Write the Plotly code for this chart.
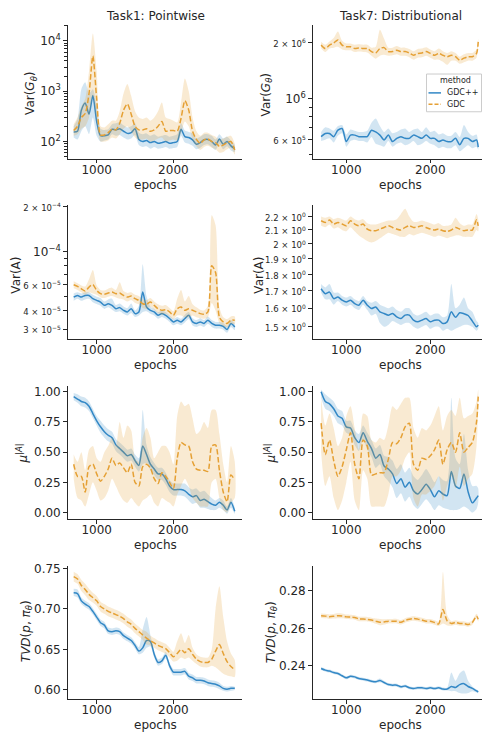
import plotly.graph_objects as go

# ---------------- data ----------------
EPOCHS_T1 = list(range(700, 2801, 50))            # Task1 x grid (43)
EPOCHS_T7 = list(range(700, 2551, 50)) + [2570]   # Task7 x grid (39)

# Task1 Var(G)
T1_VARG_GDCPP = [155, 160, 420, 580, 350, 820, 250, 130, 130, 135,
                 175, 170, 180, 160, 145, 150, 180, 110, 100, 105,
                 95, 100, 92, 95, 100, 92, 95, 100, 175, 125,
                 120, 108, 88, 95, 108, 110, 100, 85, 112, 88,
                 100, 82, 72]
T1_VARG_GDCPP_HI = [200, 280, 1100, 1500, 900, 1100, 500, 180, 170, 175,
                    220, 230, 240, 210, 190, 200, 230, 150, 140, 145,
                    130, 140, 125, 130, 135, 125, 130, 140, 230, 165,
                    155, 145, 115, 125, 140, 140, 130, 110, 140, 115,
                    125, 105, 85]
T1_VARG_GDCPP_LO = [120, 110, 160, 200, 140, 300, 130, 100, 105, 110,
                    140, 130, 135, 120, 110, 115, 135, 85, 78, 80,
                    72, 78, 72, 74, 78, 72, 74, 78, 130, 95,
                    90, 82, 70, 75, 85, 88, 78, 68, 88, 70,
                    80, 66, 62]
T1_VARG_GDC = [165, 200, 300, 360, 900, 5000, 700, 135, 135, 150,
               175, 170, 230, 420, 560, 350, 200, 170, 170, 180,
               160, 170, 200, 250, 160, 165, 165, 160, 290, 650,
               420, 160, 110, 92, 108, 112, 100, 95, 80, 85,
               95, 100, 68]
T1_VARG_GDC_HI = [220, 300, 500, 700, 2500, 14000, 2500, 200, 190, 220,
                  260, 260, 400, 900, 1400, 800, 400, 300, 280, 300,
                  260, 300, 400, 600, 300, 280, 260, 240, 600, 1800,
                  1000, 300, 160, 130, 150, 150, 135, 125, 110, 115,
                  125, 130, 90]
T1_VARG_GDC_LO = [130, 140, 180, 200, 300, 800, 250, 100, 100, 105,
                  120, 115, 140, 180, 200, 160, 120, 110, 110, 115,
                  100, 105, 115, 120, 100, 105, 110, 105, 150, 250,
                  200, 110, 80, 68, 78, 82, 75, 70, 60, 62,
                  70, 75, 55]

# Task1 Var(A)
T1_VARA_GDCPP = [4.92e-5, 5.05e-5, 4.92e-5, 5.05e-5, 5.05e-5, 4.80e-5, 4.68e-5, 4.56e-5, 4.33e-5, 4.44e-5,
                 4.33e-5, 4.11e-5, 4.18e-5, 4.01e-5, 3.91e-5, 4.11e-5, 3.81e-5, 3.91e-5, 5.32e-5, 4.22e-5,
                 4.01e-5, 3.91e-5, 3.71e-5, 3.81e-5, 3.71e-5, 3.53e-5, 3.35e-5, 3.44e-5, 3.35e-5, 3.53e-5,
                 3.71e-5, 3.35e-5, 3.27e-5, 3.35e-5, 3.27e-5, 3.44e-5, 3.27e-5, 3.18e-5, 3.18e-5, 3.13e-5,
                 2.98e-5, 3.27e-5, 3.10e-5]
T1_VARA_GDCPP_HI = [5.2e-5, 5.3e-5, 5.2e-5, 5.3e-5, 5.3e-5, 5.1e-5, 4.95e-5, 4.85e-5, 4.6e-5, 4.75e-5,
                    4.8e-5, 4.35e-5, 4.45e-5, 4.25e-5, 4.15e-5, 4.45e-5, 4.0e-5, 4.3e-5, 8.2e-5, 5.0e-5,
                    4.25e-5, 4.1e-5, 3.9e-5, 4.0e-5, 3.9e-5, 3.7e-5, 3.52e-5, 3.62e-5, 3.52e-5, 3.75e-5,
                    3.9e-5, 3.55e-5, 3.45e-5, 3.55e-5, 3.45e-5, 3.65e-5, 3.45e-5, 3.35e-5, 3.35e-5, 3.3e-5,
                    3.15e-5, 3.45e-5, 3.25e-5]
T1_VARA_GDCPP_LO = [4.65e-5, 4.8e-5, 4.65e-5, 4.75e-5, 4.8e-5, 4.55e-5, 4.42e-5, 4.3e-5, 4.1e-5, 4.2e-5,
                    4.05e-5, 3.9e-5, 3.95e-5, 3.8e-5, 3.7e-5, 3.85e-5, 3.62e-5, 3.7e-5, 3.9e-5, 3.95e-5,
                    3.8e-5, 3.7e-5, 3.52e-5, 3.62e-5, 3.52e-5, 3.35e-5, 3.18e-5, 3.26e-5, 3.18e-5, 3.32e-5,
                    3.5e-5, 3.17e-5, 3.1e-5, 3.17e-5, 3.1e-5, 3.25e-5, 3.1e-5, 3.02e-5, 3.02e-5, 2.97e-5,
                    2.83e-5, 3.1e-5, 2.95e-5]
T1_VARA_GDC = [5.96e-5, 5.81e-5, 5.60e-5, 5.40e-5, 5.75e-5, 5.98e-5, 5.45e-5, 5.19e-5, 5.14e-5, 5.24e-5,
               5.32e-5, 5.19e-5, 5.24e-5, 5.05e-5, 4.92e-5, 5.00e-5, 4.80e-5, 4.68e-5, 4.44e-5, 4.40e-5,
               4.56e-5, 4.33e-5, 4.11e-5, 4.01e-5, 4.05e-5, 3.91e-5, 3.71e-5, 4.11e-5, 4.22e-5, 4.01e-5,
               4.11e-5, 4.01e-5, 3.91e-5, 3.81e-5, 3.77e-5, 3.91e-5, 8.0e-5, 7.2e-5, 3.6e-5, 3.35e-5,
               3.27e-5, 3.44e-5, 3.44e-5]
T1_VARA_GDC_HI = [6.3e-5, 6.1e-5, 5.9e-5, 5.8e-5, 6.5e-5, 7.5e-5, 5.9e-5, 5.5e-5, 5.45e-5, 5.6e-5,
                  5.7e-5, 5.5e-5, 6.2e-5, 5.4e-5, 5.25e-5, 5.3e-5, 5.1e-5, 5.0e-5, 4.75e-5, 4.7e-5,
                  4.85e-5, 4.6e-5, 4.4e-5, 4.3e-5, 4.35e-5, 4.15e-5, 3.95e-5, 4.8e-5, 5.5e-5, 4.6e-5,
                  5.0e-5, 4.4e-5, 4.2e-5, 4.05e-5, 4.0e-5, 4.3e-5, 1.75e-4, 1.5e-4, 4.2e-5, 3.6e-5,
                  3.5e-5, 3.65e-5, 3.65e-5]
T1_VARA_GDC_LO = [5.65e-5, 5.5e-5, 5.3e-5, 5.1e-5, 5.3e-5, 5.2e-5, 5.1e-5, 4.9e-5, 4.85e-5, 4.95e-5,
                  5.0e-5, 4.9e-5, 4.8e-5, 4.75e-5, 4.6e-5, 4.7e-5, 4.5e-5, 4.4e-5, 4.15e-5, 4.1e-5,
                  4.25e-5, 4.05e-5, 3.85e-5, 3.75e-5, 3.8e-5, 3.65e-5, 3.5e-5, 3.7e-5, 3.7e-5, 3.6e-5,
                  3.6e-5, 3.7e-5, 3.6e-5, 3.55e-5, 3.52e-5, 3.6e-5, 4.5e-5, 4.0e-5, 3.3e-5, 3.15e-5,
                  3.08e-5, 3.25e-5, 3.25e-5]

# Task1 mu^|A|
T1_MU_GDCPP = [0.96, 0.94, 0.92, 0.91, 0.88, 0.82, 0.76, 0.71, 0.67, 0.64,
               0.62, 0.56, 0.53, 0.50, 0.47, 0.48, 0.43, 0.39, 0.55, 0.48,
               0.40, 0.36, 0.32, 0.32, 0.28, 0.22, 0.19, 0.19, 0.19, 0.18,
               0.15, 0.13, 0.14, 0.10, 0.11, 0.09, 0.07, 0.06, 0.085, 0.06,
               0.02, 0.085, 0.01]
T1_MU_GDCPP_HI = [0.99, 0.98, 0.96, 0.95, 0.92, 0.86, 0.80, 0.76, 0.72, 0.69,
                  0.67, 0.61, 0.58, 0.55, 0.52, 0.53, 0.48, 0.45, 0.85, 0.56,
                  0.46, 0.41, 0.37, 0.37, 0.33, 0.27, 0.24, 0.24, 0.24, 0.24,
                  0.21, 0.19, 0.20, 0.17, 0.18, 0.15, 0.12, 0.10, 0.12, 0.10,
                  0.05, 0.12, 0.04]
T1_MU_GDCPP_LO = [0.93, 0.91, 0.88, 0.87, 0.84, 0.78, 0.72, 0.66, 0.62, 0.59,
                  0.57, 0.51, 0.48, 0.45, 0.42, 0.43, 0.38, 0.34, 0.40, 0.41,
                  0.35, 0.31, 0.27, 0.27, 0.23, 0.17, 0.14, 0.14, 0.14, 0.13,
                  0.10, 0.07, 0.08, 0.04, 0.04, 0.03, 0.02, 0.02, 0.04, 0.02,
                  -0.01, 0.04, -0.01]
T1_MU_GDC = [0.40, 0.30, 0.30, 0.17, 0.38, 0.40, 0.32, 0.26, 0.30, 0.36,
             0.45, 0.39, 0.41, 0.37, 0.33, 0.40, 0.25, 0.22, 0.38, 0.40,
             0.37, 0.28, 0.24, 0.33, 0.30, 0.25, 0.20, 0.45, 0.58, 0.56,
             0.55, 0.42, 0.36, 0.35, 0.35, 0.34, 0.55, 0.56, 0.35, 0.17,
             0.09, 0.31, 0.27]
T1_MU_GDC_HI = [0.48, 0.42, 0.50, 0.35, 0.52, 0.55, 0.45, 0.42, 0.50, 0.55,
                0.62, 0.55, 0.75, 0.62, 0.72, 0.68, 0.45, 0.42, 0.62, 0.70,
                0.62, 0.45, 0.50, 0.55, 0.55, 0.50, 0.40, 0.80, 0.92, 0.88,
                0.90, 0.78, 0.65, 0.68, 0.75, 0.70, 0.85, 0.85, 0.65, 0.40,
                0.25, 0.55, 0.42]
T1_MU_GDC_LO = [0.28, 0.12, 0.10, 0.05, 0.15, 0.25, 0.18, 0.10, 0.12, 0.18,
                0.28, 0.22, 0.15, 0.10, 0.08, 0.12, 0.08, 0.05, 0.10, 0.12,
                0.15, 0.08, 0.05, 0.12, 0.10, 0.08, 0.05, 0.15, 0.22, 0.28,
                0.22, 0.12, 0.08, 0.05, 0.05, 0.05, 0.25, 0.28, 0.12, 0.02,
                0.00, 0.08, 0.12]

# Task1 TVD
T1_TVD_GDCPP = [0.720, 0.719, 0.710, 0.706, 0.703, 0.697, 0.690, 0.683, 0.680, 0.673,
                0.672, 0.673, 0.672, 0.667, 0.664, 0.661, 0.655, 0.648, 0.652, 0.661,
                0.660, 0.644, 0.634, 0.636, 0.643, 0.630, 0.622, 0.622, 0.622, 0.623,
                0.617, 0.615, 0.612, 0.612, 0.611, 0.609, 0.608, 0.607, 0.605, 0.602,
                0.601, 0.602, 0.602]
T1_TVD_GDCPP_HI = [0.725, 0.724, 0.714, 0.710, 0.707, 0.701, 0.694, 0.687, 0.684, 0.677,
                   0.676, 0.677, 0.676, 0.671, 0.668, 0.665, 0.659, 0.653, 0.675, 0.690,
                   0.668, 0.648, 0.638, 0.640, 0.647, 0.634, 0.626, 0.626, 0.626, 0.627,
                   0.621, 0.619, 0.616, 0.616, 0.615, 0.613, 0.612, 0.611, 0.609, 0.605,
                   0.604, 0.605, 0.604]
T1_TVD_GDCPP_LO = [0.716, 0.714, 0.706, 0.702, 0.699, 0.693, 0.686, 0.679, 0.676, 0.669,
                   0.668, 0.669, 0.668, 0.663, 0.660, 0.657, 0.651, 0.644, 0.646, 0.652,
                   0.654, 0.640, 0.630, 0.632, 0.639, 0.626, 0.618, 0.618, 0.618, 0.619,
                   0.613, 0.611, 0.608, 0.608, 0.607, 0.605, 0.604, 0.603, 0.601, 0.599,
                   0.598, 0.599, 0.600]
T1_TVD_GDC = [0.740, 0.737, 0.729, 0.724, 0.718, 0.714, 0.710, 0.703, 0.700, 0.697,
              0.695, 0.693, 0.691, 0.688, 0.684, 0.681, 0.676, 0.672, 0.668, 0.664,
              0.661, 0.658, 0.655, 0.653, 0.651, 0.646, 0.641, 0.645, 0.650, 0.646,
              0.651, 0.644, 0.638, 0.635, 0.634, 0.634, 0.638, 0.648, 0.656, 0.645,
              0.635, 0.629, 0.625]
T1_TVD_GDC_HI = [0.746, 0.743, 0.736, 0.731, 0.725, 0.720, 0.716, 0.709, 0.706, 0.703,
                 0.701, 0.699, 0.697, 0.694, 0.690, 0.687, 0.682, 0.678, 0.674, 0.672,
                 0.667, 0.664, 0.661, 0.659, 0.657, 0.652, 0.647, 0.660, 0.670, 0.658,
                 0.668, 0.652, 0.644, 0.641, 0.640, 0.640, 0.650, 0.700, 0.728, 0.690,
                 0.660, 0.645, 0.637]
T1_TVD_GDC_LO = [0.734, 0.731, 0.722, 0.717, 0.711, 0.708, 0.704, 0.697, 0.694, 0.691,
                 0.689, 0.687, 0.685, 0.682, 0.678, 0.675, 0.670, 0.666, 0.662, 0.656,
                 0.655, 0.652, 0.649, 0.647, 0.645, 0.640, 0.635, 0.636, 0.640, 0.638,
                 0.640, 0.636, 0.632, 0.629, 0.628, 0.628, 0.630, 0.628, 0.624, 0.620,
                 0.618, 0.617, 0.616]

# Task7 Var(G)
T7_VARG_GDCPP = [6.23e5, 6.48e5, 6.48e5, 6.23e5, 6.75e5, 6.89e5, 5.86e5, 6.35e5, 6.35e5, 6.23e5,
                 6.23e5, 6.23e5, 6.75e5, 6.61e5, 6.35e5, 5.98e5, 6.35e5, 5.86e5, 6.10e5, 6.23e5,
                 6.10e5, 6.10e5, 6.35e5, 6.23e5, 6.10e5, 6.35e5, 6.10e5, 6.10e5, 5.86e5, 5.98e5,
                 5.86e5, 5.86e5, 6.10e5, 5.63e5, 6.10e5, 6.10e5, 5.86e5, 5.98e5, 5.47e5]
T7_VARG_GDCPP_HI = [6.6e5, 7.0e5, 6.9e5, 6.7e5, 7.1e5, 7.2e5, 6.4e5, 6.8e5, 6.7e5, 6.6e5,
                    6.6e5, 6.7e5, 7.4e5, 7.8e5, 7.1e5, 6.6e5, 6.9e5, 6.5e5, 6.6e5, 6.8e5,
                    6.9e5, 6.6e5, 6.8e5, 6.9e5, 6.6e5, 7.0e5, 6.6e5, 6.7e5, 6.4e5, 6.5e5,
                    6.3e5, 6.3e5, 6.6e5, 6.2e5, 7.2e5, 6.6e5, 6.3e5, 6.4e5, 5.7e5]
T7_VARG_GDCPP_LO = [5.9e5, 6.0e5, 6.1e5, 5.8e5, 6.3e5, 6.5e5, 5.5e5, 5.9e5, 6.0e5, 5.9e5,
                    5.9e5, 5.8e5, 6.2e5, 5.7e5, 5.6e5, 5.5e5, 5.9e5, 5.5e5, 5.7e5, 5.8e5,
                    5.6e5, 5.7e5, 5.9e5, 5.6e5, 5.7e5, 5.9e5, 5.7e5, 5.6e5, 5.4e5, 5.5e5,
                    5.4e5, 5.4e5, 5.6e5, 5.2e5, 5.4e5, 5.6e5, 5.4e5, 5.5e5, 5.3e5]
T7_VARG_GDC = [1.94e6, 1.86e6, 1.94e6, 1.99e6, 2.07e6, 1.94e6, 1.90e6, 1.90e6, 1.86e6, 1.87e6,
               1.86e6, 1.86e6, 1.79e6, 1.76e6, 1.86e6, 1.88e6, 1.79e6, 1.79e6, 1.82e6, 1.79e6,
               1.79e6, 1.76e6, 1.71e6, 1.75e6, 1.76e6, 1.79e6, 1.75e6, 1.71e6, 1.75e6, 1.71e6,
               1.68e6, 1.71e6, 1.68e6, 1.61e6, 1.65e6, 1.68e6, 1.68e6, 1.75e6, 2.02e6]
T7_VARG_GDC_HI = [2.02e6, 1.95e6, 2.03e6, 2.12e6, 2.30e6, 2.05e6, 1.98e6, 1.98e6, 1.95e6, 1.96e6,
                  1.95e6, 1.95e6, 1.88e6, 1.90e6, 2.35e6, 2.10e6, 1.88e6, 1.88e6, 1.92e6, 1.88e6,
                  1.88e6, 1.85e6, 1.80e6, 1.85e6, 1.86e6, 1.89e6, 1.84e6, 1.80e6, 1.86e6, 1.80e6,
                  1.76e6, 1.80e6, 1.76e6, 1.68e6, 1.73e6, 1.76e6, 1.76e6, 1.83e6, 2.10e6]
T7_VARG_GDC_LO = [1.86e6, 1.78e6, 1.86e6, 1.88e6, 1.90e6, 1.84e6, 1.82e6, 1.82e6, 1.78e6, 1.79e6,
                  1.78e6, 1.77e6, 1.70e6, 1.64e6, 1.70e6, 1.72e6, 1.70e6, 1.71e6, 1.73e6, 1.70e6,
                  1.70e6, 1.67e6, 1.62e6, 1.66e6, 1.67e6, 1.70e6, 1.66e6, 1.62e6, 1.62e6, 1.58e6,
                  1.52e6, 1.60e6, 1.60e6, 1.54e6, 1.57e6, 1.60e6, 1.60e6, 1.66e6, 1.94e6]

# Task7 Var(A)
T7_VARA_GDCPP = [1.712, 1.683, 1.692, 1.654, 1.664, 1.645, 1.635, 1.645, 1.626, 1.617,
                 1.645, 1.617, 1.598, 1.607, 1.580, 1.571, 1.562, 1.571, 1.553, 1.544,
                 1.562, 1.562, 1.535, 1.526, 1.535, 1.544, 1.526, 1.535, 1.535, 1.517,
                 1.526, 1.580, 1.550, 1.575, 1.570, 1.560, 1.530, 1.500, 1.509]
T7_VARA_GDCPP_HI = [1.74, 1.72, 1.74, 1.69, 1.69, 1.67, 1.66, 1.67, 1.65, 1.64,
                    1.67, 1.64, 1.63, 1.64, 1.62, 1.61, 1.60, 1.61, 1.59, 1.58,
                    1.60, 1.60, 1.57, 1.56, 1.57, 1.58, 1.56, 1.57, 1.57, 1.55,
                    1.56, 1.74, 1.60, 1.62, 1.66, 1.60, 1.58, 1.53, 1.52]
T7_VARA_GDCPP_LO = [1.69, 1.65, 1.65, 1.62, 1.64, 1.62, 1.61, 1.62, 1.60, 1.59,
                    1.62, 1.59, 1.56, 1.57, 1.52, 1.50, 1.51, 1.53, 1.52, 1.51,
                    1.52, 1.52, 1.50, 1.49, 1.50, 1.51, 1.49, 1.50, 1.50, 1.48,
                    1.49, 1.48, 1.49, 1.50, 1.51, 1.51, 1.50, 1.48, 1.49]
T7_VARA_GDC = [2.168, 2.155, 2.173, 2.143, 2.155, 2.143, 2.130, 2.168, 2.143, 2.130,
               2.143, 2.106, 2.094, 2.094, 2.106, 2.118, 2.130, 2.118, 2.106, 2.099,
               2.118, 2.130, 2.118, 2.123, 2.130, 2.118, 2.106, 2.099, 2.106, 2.094,
               2.089, 2.099, 2.118, 2.106, 2.094, 2.099, 2.099, 2.175, 2.130]
T7_VARA_GDC_HI = [2.20, 2.19, 2.20, 2.18, 2.19, 2.18, 2.17, 2.20, 2.18, 2.17,
                  2.18, 2.15, 2.14, 2.14, 2.15, 2.16, 2.17, 2.17, 2.18, 2.22,
                  2.26, 2.20, 2.16, 2.16, 2.17, 2.16, 2.15, 2.14, 2.15, 2.13,
                  2.13, 2.14, 2.19, 2.15, 2.13, 2.14, 2.14, 2.22, 2.18]
T7_VARA_GDC_LO = [2.13, 2.12, 2.14, 2.11, 2.12, 2.10, 2.09, 2.12, 2.09, 2.06,
                  2.04, 2.02, 2.01, 2.02, 2.04, 2.06, 2.08, 2.07, 2.06, 2.05,
                  2.05, 2.07, 2.06, 2.07, 2.08, 2.07, 2.06, 2.05, 2.06, 2.05,
                  2.04, 2.05, 2.06, 2.06, 2.05, 2.05, 2.05, 2.10, 2.09]

# Task7 mu^|A|
T7_MU_GDCPP = [1.00, 0.92, 0.90, 0.86, 0.80, 0.78, 0.71, 0.70, 0.62, 0.58,
               0.66, 0.59, 0.53, 0.45, 0.48, 0.385, 0.36, 0.32, 0.24, 0.28,
               0.21, 0.25, 0.18, 0.153, 0.19, 0.235, 0.19, 0.13, 0.18, 0.153,
               0.14, 0.34, 0.22, 0.20, 0.32, 0.17, 0.08, 0.12, 0.14]
T7_MU_GDCPP_HI = [1.02, 0.98, 0.95, 0.92, 0.86, 0.84, 0.76, 0.76, 0.68, 0.65,
                  0.72, 0.66, 0.60, 0.53, 0.56, 0.47, 0.46, 0.43, 0.36, 0.40,
                  0.33, 0.37, 0.30, 0.27, 0.31, 0.36, 0.31, 0.25, 0.30, 0.27,
                  0.26, 0.95, 0.45, 0.40, 0.65, 0.35, 0.22, 0.22, 0.20]
T7_MU_GDCPP_LO = [0.95, 0.86, 0.84, 0.80, 0.74, 0.72, 0.66, 0.64, 0.56, 0.51,
                  0.60, 0.52, 0.46, 0.37, 0.40, 0.30, 0.26, 0.21, 0.12, 0.16,
                  0.09, 0.13, 0.06, 0.03, 0.07, 0.11, 0.07, 0.02, 0.06, 0.04,
                  0.03, 0.02, 0.02, 0.03, 0.05, 0.03, 0.00, 0.03, 0.08]
T7_MU_GDC = [0.74, 0.48, 0.60, 0.43, 0.30, 0.38, 0.52, 0.66, 0.40, 0.28,
             0.60, 0.55, 0.31, 0.32, 0.33, 0.33, 0.44, 0.58, 0.57, 0.62,
             0.71, 0.74, 0.40, 0.35, 0.45, 0.44, 0.47, 0.52, 0.60, 0.40,
             0.52, 0.58, 0.50, 0.66, 0.50, 0.54, 0.58, 0.75, 0.96]
T7_MU_GDC_HI = [0.95, 0.72, 0.82, 0.70, 0.55, 0.62, 0.80, 0.88, 0.70, 0.52,
                0.82, 0.80, 0.60, 0.58, 0.62, 0.60, 0.72, 0.88, 0.85, 0.90,
                0.95, 0.95, 0.70, 0.62, 0.70, 0.68, 0.72, 0.80, 0.88, 0.68,
                0.80, 0.85, 0.80, 0.95, 0.78, 0.80, 0.82, 0.92, 1.02]
T7_MU_GDC_LO = [0.50, 0.22, 0.30, 0.12, 0.02, 0.10, 0.25, 0.42, 0.10, 0.02,
                0.35, 0.28, 0.05, 0.05, 0.05, 0.05, 0.15, 0.30, 0.30, 0.35,
                0.45, 0.50, 0.12, 0.05, 0.15, 0.15, 0.18, 0.22, 0.30, 0.10,
                0.22, 0.30, 0.20, 0.38, 0.22, 0.28, 0.32, 0.55, 0.88]

# Task7 TVD
T7_TVD_GDCPP = [0.2386, 0.2377, 0.2372, 0.2364, 0.2359, 0.2347, 0.2336, 0.2345, 0.2341, 0.2332,
                0.2329, 0.2324, 0.2318, 0.2315, 0.2322, 0.2311, 0.2300, 0.2297, 0.2297, 0.2288,
                0.2293, 0.2283, 0.2279, 0.2283, 0.2283, 0.2279, 0.2283, 0.2279, 0.2283, 0.2276,
                0.2276, 0.2290, 0.2285, 0.2300, 0.2305, 0.2290, 0.2280, 0.2266, 0.2261]
T7_TVD_GDCPP_HI = [0.2394, 0.2385, 0.2380, 0.2372, 0.2367, 0.2355, 0.2344, 0.2353, 0.2349, 0.2340,
                   0.2337, 0.2332, 0.2326, 0.2323, 0.2332, 0.2319, 0.2308, 0.2305, 0.2305, 0.2296,
                   0.2301, 0.2291, 0.2287, 0.2291, 0.2291, 0.2287, 0.2291, 0.2287, 0.2291, 0.2284,
                   0.2284, 0.2365, 0.2320, 0.2360, 0.2375, 0.2320, 0.2290, 0.2274, 0.2268]
T7_TVD_GDCPP_LO = [0.2378, 0.2369, 0.2364, 0.2356, 0.2351, 0.2339, 0.2328, 0.2337, 0.2333, 0.2324,
                   0.2321, 0.2316, 0.2310, 0.2307, 0.2312, 0.2303, 0.2292, 0.2289, 0.2289, 0.2280,
                   0.2285, 0.2275, 0.2271, 0.2275, 0.2275, 0.2271, 0.2275, 0.2271, 0.2275, 0.2268,
                   0.2268, 0.2265, 0.2265, 0.2255, 0.2252, 0.2255, 0.2265, 0.2258, 0.2254]
T7_TVD_GDC = [0.2667, 0.2665, 0.2662, 0.2664, 0.2667, 0.2666, 0.2661, 0.2660, 0.2658, 0.2650,
              0.2649, 0.2648, 0.2644, 0.2638, 0.2632, 0.2634, 0.2638, 0.2638, 0.2638, 0.2632,
              0.2642, 0.2648, 0.2652, 0.2649, 0.2644, 0.2638, 0.2638, 0.2631, 0.2624, 0.2700,
              0.2640, 0.2626, 0.2631, 0.2626, 0.2626, 0.2620, 0.2631, 0.2665, 0.2648]
T7_TVD_GDC_HI = [0.2679, 0.2677, 0.2674, 0.2676, 0.2680, 0.2679, 0.2673, 0.2672, 0.2670, 0.2662,
                 0.2661, 0.2660, 0.2656, 0.2652, 0.2650, 0.2648, 0.2650, 0.2650, 0.2650, 0.2644,
                 0.2654, 0.2660, 0.2664, 0.2661, 0.2656, 0.2650, 0.2650, 0.2643, 0.2636, 0.2900,
                 0.2672, 0.2638, 0.2643, 0.2638, 0.2638, 0.2632, 0.2643, 0.2677, 0.2662]
T7_TVD_GDC_LO = [0.2655, 0.2653, 0.2650, 0.2652, 0.2654, 0.2653, 0.2649, 0.2648, 0.2646, 0.2638,
                 0.2637, 0.2636, 0.2632, 0.2624, 0.2616, 0.2620, 0.2626, 0.2626, 0.2626, 0.2620,
                 0.2630, 0.2636, 0.2640, 0.2637, 0.2632, 0.2626, 0.2626, 0.2619, 0.2612, 0.2625,
                 0.2615, 0.2614, 0.2619, 0.2614, 0.2614, 0.2608, 0.2619, 0.2653, 0.2636]

X_TICKS = [1000, 2000]
X_TICK_TEXT = ["1000", "2000"]
METHODS = ["GDC++", "GDC"]

# ---------------- styling ----------------
W, H = 482, 733
FONT = "DejaVu Sans"
INK = "#262626"
BLUE, ORANGE = "#3388c6", "#e5a034"
BLUE_FILL, ORANGE_FILL = "rgba(51,136,198,0.22)", "rgba(229,160,52,0.22)"
DASH = "5.5px,2.4px"


def px(x):
    return x / W


def py(y):
    return 1 - y / H


def small(s):
    return "<span style='font-size:8.5px'>" + s + "</span>"


LEFT_DOM = [px(67.7), px(241.5)]
RIGHT_DOM = [px(312.7), 1.0]
ROW_DOMS = [[py(155.7), py(21)], [py(337.3), py(202.7)],
            [py(518.7), py(384.5)], [py(700), py(565.7)]]

panels = [
    dict(x=EPOCHS_T1, s=[(T1_VARG_GDCPP, T1_VARG_GDCPP_LO, T1_VARG_GDCPP_HI), (T1_VARG_GDC, T1_VARG_GDC_LO, T1_VARG_GDC_HI)],
         log=True, yr=[1.659, 4.32], tv=[100, 1000, 10000],
         tt=["10<sup>2</sup>", "10<sup>3</sup>", "10<sup>4</sup>"],
         minor=[m * 10 ** e for e in (1, 2, 3, 4) for m in range(2, 10)]),
    dict(x=EPOCHS_T7, s=[(T7_VARG_GDCPP, T7_VARG_GDCPP_LO, T7_VARG_GDCPP_HI), (T7_VARG_GDC, T7_VARG_GDC_LO, T7_VARG_GDC_HI)],
         log=True, yr=[5.676, 6.397], tv=[6e5, 1e6, 2e6],
         tt=[small("6 × 10<sup>5</sup>"), "10<sup>6</sup>", small("2 × 10<sup>6</sup>")],
         minor=[5e5, 7e5, 8e5, 9e5]),
    dict(x=EPOCHS_T1, s=[(T1_VARA_GDCPP, T1_VARA_GDCPP_LO, T1_VARA_GDCPP_HI), (T1_VARA_GDC, T1_VARA_GDC_LO, T1_VARA_GDC_HI)],
         log=True, yr=[-4.590, -3.690], tv=[3e-5, 4e-5, 6e-5, 1e-4, 2e-4],
         tt=[small("3 × 10<sup>−5</sup>"), small("4 × 10<sup>−5</sup>"), small("6 × 10<sup>−5</sup>"),
             "10<sup>−4</sup>", small("2 × 10<sup>−4</sup>")],
         minor=[5e-5, 7e-5, 8e-5, 9e-5]),
    dict(x=EPOCHS_T7, s=[(T7_VARA_GDCPP, T7_VARA_GDCPP_LO, T7_VARA_GDCPP_HI), (T7_VARA_GDC, T7_VARA_GDC_LO, T7_VARA_GDC_HI)],
         log=True, yr=[0.1577, 0.3593], tv=[1.5, 1.6, 1.7, 1.8, 1.9, 2.0, 2.1, 2.2],
         tt=[small(v + " × 10<sup>0</sup>") for v in ["1.5", "1.6", "1.7", "1.8", "1.9", "2", "2.1", "2.2"]],
         minor=[]),
    dict(x=EPOCHS_T1, s=[(T1_MU_GDCPP, T1_MU_GDCPP_LO, T1_MU_GDCPP_HI), (T1_MU_GDC, T1_MU_GDC_LO, T1_MU_GDC_HI)],
         log=False, yr=[-0.055, 1.049], tv=[0, 0.25, 0.5, 0.75, 1.0],
         tt=["0.00", "0.25", "0.50", "0.75", "1.00"], minor=[]),
    dict(x=EPOCHS_T7, s=[(T7_MU_GDCPP, T7_MU_GDCPP_LO, T7_MU_GDCPP_HI), (T7_MU_GDC, T7_MU_GDC_LO, T7_MU_GDC_HI)],
         log=False, yr=[-0.055, 1.049], tv=[0, 0.25, 0.5, 0.75, 1.0],
         tt=["0.00", "0.25", "0.50", "0.75", "1.00"], minor=[]),
    dict(x=EPOCHS_T1, s=[(T1_TVD_GDCPP, T1_TVD_GDCPP_LO, T1_TVD_GDCPP_HI), (T1_TVD_GDC, T1_TVD_GDC_LO, T1_TVD_GDC_HI)],
         log=False, yr=[0.5886, 0.7532], tv=[0.60, 0.65, 0.70, 0.75],
         tt=["0.60", "0.65", "0.70", "0.75"], minor=[]),
    dict(x=EPOCHS_T7, s=[(T7_TVD_GDCPP, T7_TVD_GDCPP_LO, T7_TVD_GDCPP_HI), (T7_TVD_GDC, T7_TVD_GDC_LO, T7_TVD_GDC_HI)],
         log=False, yr=[0.2222, 0.2933], tv=[0.24, 0.26, 0.28],
         tt=["0.24", "0.26", "0.28"], minor=[]),
]

fig = go.Figure()
layout_axes = {}
styles = [(BLUE, BLUE_FILL, "solid"), (ORANGE, ORANGE_FILL, DASH)]

for k, p in enumerate(panels, start=1):
    xa = "x" if k == 1 else f"x{k}"
    ya = "y" if k == 1 else f"y{k}"
    left = (k % 2 == 1)
    row = (k - 1) // 2
    xs = p["x"]
    for (mean, lo, hi), (col, fillc, dash), name in zip(p["s"], styles, METHODS):
        fig.add_trace(go.Scatter(x=xs + xs[::-1], y=hi + lo[::-1], fill="toself",
                                 fillcolor=fillc, line=dict(width=0, shape="spline", smoothing=0.7),
                                 mode="lines", hoverinfo="skip", showlegend=False,
                                 xaxis=xa, yaxis=ya))
        fig.add_trace(go.Scatter(x=xs, y=mean, mode="lines", name=name,
                                 line=dict(color=col, width=1.5, dash=dash,
                                           shape="spline", smoothing=0.7),
                                 showlegend=False, xaxis=xa, yaxis=ya))
    common = dict(showline=True, linecolor=INK, linewidth=1.1, ticks="outside", ticklen=3.5,
                  tickwidth=1, tickcolor=INK, showgrid=False, zeroline=False,
                  tickfont=dict(family=FONT, size=12, color=INK))
    xrange = [622, 2888] if left else [600, 2615]
    layout_axes["xaxis" if k == 1 else f"xaxis{k}"] = dict(
        common, domain=LEFT_DOM if left else RIGHT_DOM, range=xrange,
        anchor=ya, tickmode="array", tickvals=X_TICKS, ticktext=X_TICK_TEXT,
        ticklabelstandoff=-4)
    yax = dict(common, domain=ROW_DOMS[row], range=p["yr"], anchor=xa,
               type="log" if p["log"] else "linear",
               tickmode="array", tickvals=p["tv"], ticktext=p["tt"])
    if p["minor"]:
        yax["minor"] = dict(tickmode="array", tickvals=p["minor"], ticks="outside",
                            ticklen=2.5, tickwidth=0.8, tickcolor=INK, showgrid=False)
    layout_axes["yaxis" if k == 1 else f"yaxis{k}"] = yax

fig.update_layout(**layout_axes)

annotations = []


def ann(text, x, y, size=12, angle=0, xanchor="center"):
    annotations.append(dict(text=text, x=px(x), y=py(y), xref="paper", yref="paper",
                            showarrow=False, textangle=angle, xanchor=xanchor, yanchor="middle",
                            font=dict(family=FONT, size=size, color=INK)))


ann("Task1: Pointwise", 155.5, 12.5)
ann("Task7: Distributional", 400.7, 12.5)
for yv in (182.5, 363.5, 545.0, 726.0):
    ann("epochs", 155.0, yv)
    ann("epochs", 400.5, yv)

VARG = "Var(<i>G</i><sub><i>θ</i></sub>)"
VARA = "Var(A)"
MU = "<i>μ</i><sup>|<i>A</i>|</sup>"
TVD = "<i>TVD</i>(<i>p</i>, <i>π</i><sub><i>θ</i></sub>)"
ann(VARG, 31.5, 90, angle=-90)
ann(VARG, 266.5, 91.5, angle=-90)
ann(VARA, 16.5, 273, angle=-90)
ann(VARA, 259.5, 273, angle=-90)
ann(MU, 21.5, 453, angle=-90)
ann(MU, 269.5, 453, angle=-90)
ann(TVD, 26.5, 632, angle=-90)
ann(TVD, 271.5, 633, angle=-90)

# legend (drawn manually, matplotlib style)
ann("method", 455.5, 77.5, size=8)
ann(METHODS[0], 444.5, 89.5, size=8, xanchor="left")
ann(METHODS[1], 444.5, 101.0, size=8, xanchor="left")
shapes = [
    dict(type="rect", xref="paper", yref="paper", x0=px(426.5), x1=px(481.5), y0=py(108.5), y1=py(70.5),
         line=dict(color="#cccccc", width=1), fillcolor="rgba(255,255,255,0.85)", layer="above"),
    dict(type="line", xref="paper", yref="paper", x0=px(428.5), x1=px(441.0), y0=py(89.5), y1=py(89.5),
         line=dict(color=BLUE, width=1.5), layer="above"),
    dict(type="line", xref="paper", yref="paper", x0=px(428.5), x1=px(441.0), y0=py(101.0), y1=py(101.0),
         line=dict(color=ORANGE, width=1.5, dash="4px,2px"), layer="above"),
]

fig.update_layout(width=W, height=H, margin=dict(l=0, r=0, t=0, b=0),
                  paper_bgcolor="white", plot_bgcolor="white", showlegend=False,
                  annotations=annotations, shapes=shapes,
                  font=dict(family=FONT, size=12, color=INK))

fig.write_html("out.html", config={"displayModeBar": False},
               post_script="document.body.style.margin='0px';document.body.style.overflow='hidden';")
